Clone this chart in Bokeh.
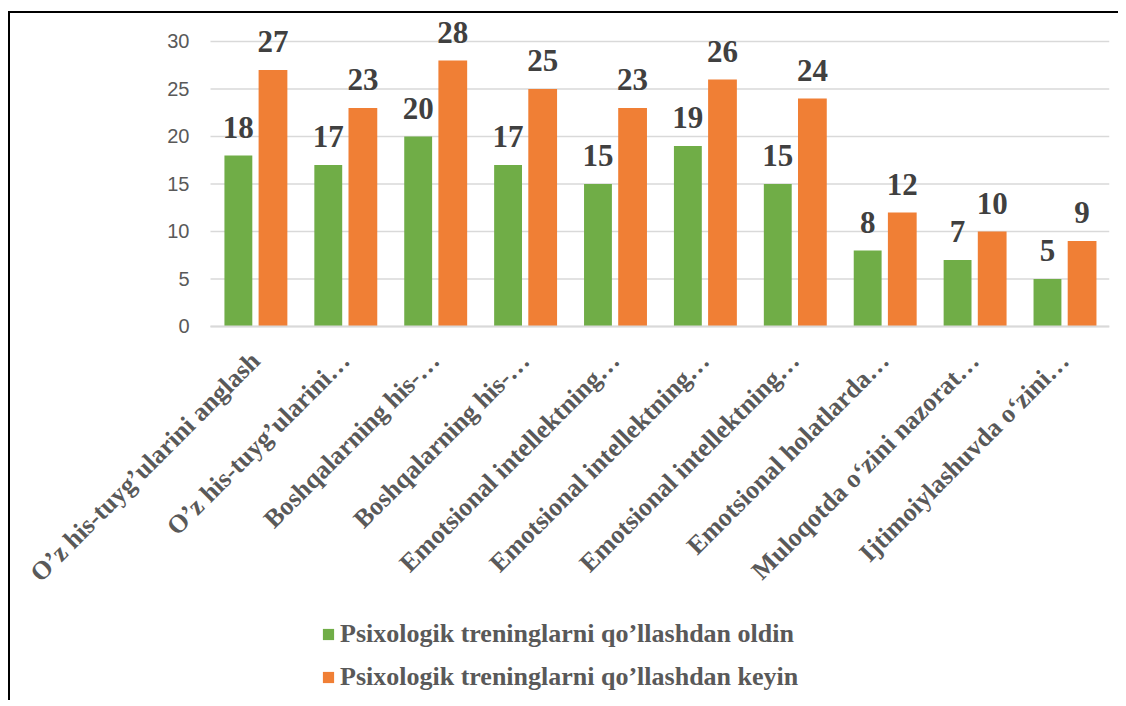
import math
from bokeh.plotting import figure
from bokeh.models import ColumnDataSource, Legend, LegendItem, FixedTicker, Range1d
from bokeh.core.properties import value
from bokeh.transform import dodge
from bokeh.embed import file_html
from bokeh.resources import INLINE

categories = [
    "O’z his-tuyg’ularini anglash",
    "O’z his-tuyg’ularini…",
    "Boshqalarning his-…",
    "Boshqalarning his-…",
    "Emotsional intellektning…",
    "Emotsional intellektning…",
    "Emotsional intellektning…",
    "Emotsional holatlarda…",
    "Muloqotda o‘zini nazorat…",
    "Ijtimoiylashuvda o‘zini…",
]
before = [18, 17, 20, 17, 15, 19, 15, 8, 7, 5]
after = [27, 23, 28, 25, 23, 26, 24, 12, 10, 9]
y_ticks = [0, 5, 10, 15, 20, 25, 30]
series_names = [
    "Psixologik treninglarni qo’llashdan oldin",
    "Psixologik treninglarni qo’llashdan keyin",
]

GREEN = "#70AD47"
ORANGE = "#F07F35"
SERIF = "Liberation Serif"

n = len(categories)
xs = list(range(1, n + 1))
src = ColumnDataSource(dict(
    x=xs, before=before, after=after,
    lb=[str(v) for v in before], la=[str(v) for v in after],
))
X0, X1 = 0.5, n + 0.5

p = figure(
    output_backend="svg", toolbar_location=None,
    x_range=Range1d(-1.6135, X1), y_range=Range1d(-39.37, 32.84),
    frame_width=1089, frame_height=686,
    min_border_left=10, min_border_right=9, min_border_top=1, min_border_bottom=0,
)
p.styles = {"border-top": "2px solid #000", "border-left": "2px solid #000",
            "margin-top": "11px", "margin-left": "8px"}

# horizontal gridlines at the y ticks, spanning the category area only
p.segment(x0=X0, x1=X1, y0=y_ticks, y1=y_ticks, line_color="#D9D9D9", line_width=1.5)

rb = p.vbar(x=dodge("x", -0.19, range=p.x_range), top="before", width=0.31,
            source=src, fill_color=GREEN, line_color=None)
ra = p.vbar(x=dodge("x", 0.195, range=p.x_range), top="after", width=0.32,
            source=src, fill_color=ORANGE, line_color=None)

for col, lab, dx in (("before", "lb", -0.19), ("after", "la", 0.195)):
    p.text(x=dodge("x", dx, range=p.x_range), y=col, text=lab, source=src,
           text_align="center", text_baseline="alphabetic", y_offset=-28,
           text_font=value(SERIF), text_font_style="bold",
           text_font_size="31px", text_color="#404040")

p.xaxis.fixed_location = 0
p.xaxis.bounds = (X0, X1)
p.xaxis.ticker = FixedTicker(ticks=xs)
p.xaxis.major_label_overrides = {x: c for x, c in zip(xs, categories)}
p.xaxis.major_label_orientation = math.pi / 4
p.xaxis.major_label_text_font = SERIF
p.xaxis.major_label_text_font_style = "bold"
p.xaxis.major_label_text_font_size = "26px"
p.xaxis.major_label_text_color = "#595959"
p.xaxis.axis_line_color = "#D9D9D9"
p.xaxis.axis_line_width = 2
p.xaxis.major_tick_line_color = None
p.xaxis.minor_tick_line_color = None
p.xaxis.major_label_standoff = 24

p.yaxis.fixed_location = X0
p.yaxis.ticker = FixedTicker(ticks=y_ticks)
p.yaxis.major_label_text_font = "Liberation Sans"
p.yaxis.major_label_text_font_size = "20px"
p.yaxis.major_label_text_color = "#595959"
p.yaxis.axis_line_color = None
p.yaxis.major_tick_line_color = None
p.yaxis.minor_tick_line_color = None
p.yaxis.major_label_standoff = 15

p.xgrid.grid_line_color = None
p.ygrid.grid_line_color = None
p.outline_line_color = None

legend = Legend(
    items=[LegendItem(label=series_names[0], renderers=[rb]),
           LegendItem(label=series_names[1], renderers=[ra])],
    location=(301, 8), orientation="vertical",
    label_text_font=SERIF, label_text_font_style="bold",
    label_text_font_size="26px", label_text_color="#595959",
    glyph_width=14, glyph_height=14, label_standoff=5, spacing=13,
    padding=0, margin=0, border_line_color=None, background_fill_alpha=0,
)
p.add_layout(legend, "center")

open("out.html", "w").write(file_html(p, INLINE))
